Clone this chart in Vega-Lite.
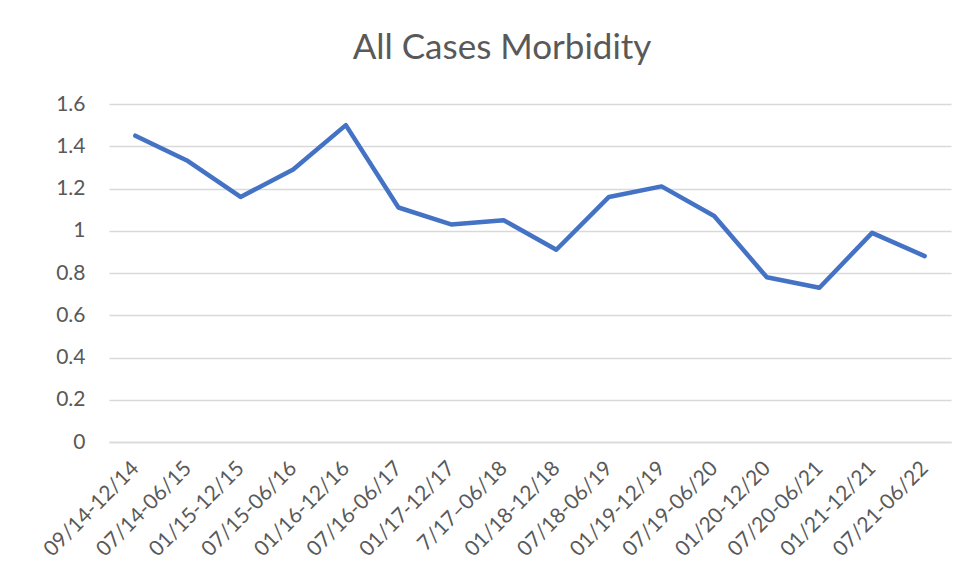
{
  "$schema": "https://vega.github.io/schema/vega-lite/v6.json",
  "width": 842,
  "height": 338,
  "autosize": {"type": "none"},
  "padding": {"left": 109, "top": 104, "right": 20, "bottom": 135},
  "background": "white",
  "title": {
    "text": "All Cases Morbidity",
    "font": "Lato",
    "fontSize": 35,
    "fontWeight": "normal",
    "color": "#595959",
    "anchor": "middle",
    "dx": -28,
    "offset": 27
  },
  "data": {
    "values": [
      {"period": "09/14-12/14", "value": 1.45},
      {"period": "07/14-06/15", "value": 1.33},
      {"period": "01/15-12/15", "value": 1.16},
      {"period": "07/15-06/16", "value": 1.29},
      {"period": "01/16-12/16", "value": 1.5},
      {"period": "07/16-06/17", "value": 1.11},
      {"period": "01/17-12/17", "value": 1.03},
      {"period": "7/17–06/18", "value": 1.05},
      {"period": "01/18-12/18", "value": 0.91},
      {"period": "07/18-06/19", "value": 1.16},
      {"period": "01/19-12/19", "value": 1.21},
      {"period": "07/19-06/20", "value": 1.07},
      {"period": "01/20-12/20", "value": 0.78},
      {"period": "07/20-06/21", "value": 0.73},
      {"period": "01/21-12/21", "value": 0.99},
      {"period": "07/21-06/22", "value": 0.88}
    ]
  },
  "mark": {"type": "line", "color": "#4472c4", "strokeWidth": 4.5, "strokeCap": "round", "strokeJoin": "round"},
  "encoding": {
    "x": {
      "field": "period",
      "type": "ordinal",
      "sort": null,
      "scale": {"type": "point", "padding": 0.5},
      "axis": {
        "title": null,
        "labelAngle": -45,
        "labelAlign": "right",
        "labelBaseline": "middle",
        "labelFont": "Lato",
        "labelFontSize": 21,
        "labelColor": "#595959",
        "labelPadding": 23,
        "ticks": false,
        "domain": true,
        "domainColor": "#d9d9d9",
        "domainWidth": 1.5,
        "grid": false
      }
    },
    "y": {
      "field": "value",
      "type": "quantitative",
      "scale": {"domain": [0, 1.6], "nice": false, "zero": true},
      "axis": {
        "title": null,
        "values": [0, 0.2, 0.4, 0.6, 0.8, 1, 1.2, 1.4, 1.6],
        "format": "~g",
        "labelFont": "Lato",
        "labelFontSize": 21,
        "labelColor": "#595959",
        "labelPadding": 24,
        "ticks": false,
        "domain": false,
        "grid": true,
        "gridColor": "#d9d9d9",
        "gridWidth": 1.5
      }
    }
  },
  "config": {"view": {"stroke": null}}
}
